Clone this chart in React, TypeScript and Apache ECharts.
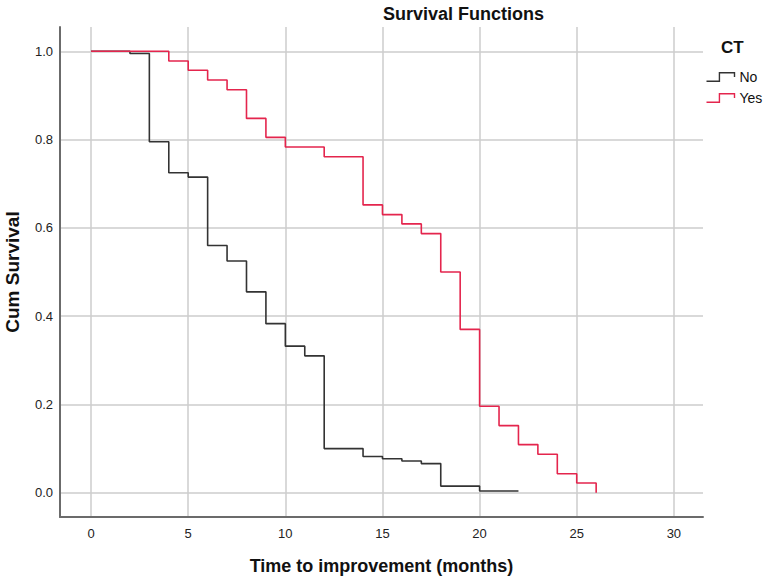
import React, { useEffect, useRef } from "react";
import * as echarts from "echarts";

const seriesNames = ["No", "Yes"];
const seriesColors = ["#333333", "#e4254d"];
const noTimes = [0, 2, 3, 4, 5, 6, 7, 8, 9, 10, 11, 12, 14, 15, 16, 17, 18, 20, 22];
const noSurv = [1.0, 0.995, 0.795, 0.725, 0.715, 0.56, 0.525, 0.455, 0.383, 0.332, 0.31, 0.1, 0.082, 0.077, 0.072, 0.066, 0.015, 0.004, 0.004];
const yesTimes = [0, 4, 5, 6, 7, 8, 9, 10, 12, 14, 15, 16, 17, 18, 19, 20, 21, 22, 23, 24, 25, 26];
const yesSurv = [1.0, 0.978, 0.957, 0.935, 0.913, 0.848, 0.805, 0.783, 0.761, 0.652, 0.63, 0.609, 0.587, 0.5, 0.37, 0.196, 0.152, 0.109, 0.087, 0.043, 0.022, 0.0];
const xTickStep = 5;
const yTickStep = 0.2;

const FONT = "'Liberation Sans', Arial, sans-serif";

export default function App() {
  const ref = useRef<HTMLDivElement>(null);
  useEffect(() => {
    if (!ref.current) return;
    const chart = echarts.init(ref.current, null, { renderer: "svg" });
    const noData = noTimes.map((t, i) => [t, noSurv[i]]);
    const yesData = yesTimes.map((t, i) => [t, yesSurv[i]]);
    chart.setOption({
      animation: false,
      backgroundColor: "#ffffff",
      textStyle: { fontFamily: FONT },
      title: [
        {
          text: "Survival Functions",
          left: 378,
          top: 0,
          textStyle: { fontFamily: FONT, fontSize: 18, fontWeight: "bold", color: "#111" },
        },
        {
          text: "CT",
          left: 716,
          top: 34,
          textStyle: { fontFamily: FONT, fontSize: 17, fontWeight: "bold", color: "#111" },
        },
      ],
      legend: {
        orient: "vertical",
        left: 699,
        top: 65,
        itemWidth: 28,
        itemHeight: 9,
        itemGap: 7,
        itemTextGap: 4,
        icon: "path://M0,8L12,8L12,0L26,0L26,4",
        textStyle: { fontFamily: FONT, fontSize: 14, color: "#111" },
        data: seriesNames.map((n, i) => ({
          name: n,
          itemStyle: { color: "none", borderColor: seriesColors[i], borderWidth: 1.4 },
        })),
      },
      grid: { left: 60, right: 62, top: 27, bottom: 65, outerBoundsMode: "none", containLabel: false },
      xAxis: {
        type: "value",
        min: -1.6,
        max: 31.5,
        splitNumber: 6,
        name: "Time to improvement (months)",
        nameLocation: "middle",
        nameGap: 40,
        nameTextStyle: { fontFamily: FONT, fontSize: 18, fontWeight: "bold", color: "#111" },
        axisLine: { show: true, onZero: false, lineStyle: { color: "#6b6b6b", width: 2 } },
        axisTick: { show: false },
        axisLabel: {
          margin: 10,
          fontSize: 13,
          color: "#222",
          fontFamily: FONT,
          formatter: (v: number) =>
            Math.abs(v / xTickStep - Math.round(v / xTickStep)) < 1e-6 ? String(Math.round(v)) : "",
        },
        splitLine: {
          show: true,
          showMinLine: false,
          showMaxLine: false,
          lineStyle: { color: "#cccccc", width: 1.5 },
        },
      },
      yAxis: {
        type: "value",
        min: -0.055,
        max: 1.055,
        splitNumber: 5,
        name: "Cum Survival",
        nameLocation: "middle",
        nameGap: 38,
        nameMoveOverlap: false,
        nameTextStyle: { fontFamily: FONT, fontSize: 19, fontWeight: "bold", color: "#111" },
        axisLine: { show: true, onZero: false, lineStyle: { color: "#6b6b6b", width: 2 } },
        axisTick: { show: false },
        axisLabel: {
          margin: 7,
          fontSize: 13,
          color: "#222",
          fontFamily: FONT,
          formatter: (v: number) =>
            Math.abs(v / yTickStep - Math.round(v / yTickStep)) < 1e-6 ? v.toFixed(1) : "",
        },
        splitLine: {
          show: true,
          showMinLine: false,
          showMaxLine: false,
          lineStyle: { color: "#cccccc", width: 1.5 },
        },
      },
      series: [
        {
          name: seriesNames[0],
          type: "line",
          step: "end",
          data: noData,
          showSymbol: false,
          symbol: "none",
          color: seriesColors[0],
          lineStyle: { color: seriesColors[0], width: 1.6 },
          z: 2,
        },
        {
          name: seriesNames[1],
          type: "line",
          step: "end",
          data: yesData,
          showSymbol: false,
          symbol: "none",
          color: seriesColors[1],
          lineStyle: { color: seriesColors[1], width: 1.6 },
          z: 3,
        },
      ],
    });
    return () => chart.dispose();
  }, []);
  return <div ref={ref} style={{ width: 765, height: 582, position: "absolute", left: 0, top: 0 }} />;
}
